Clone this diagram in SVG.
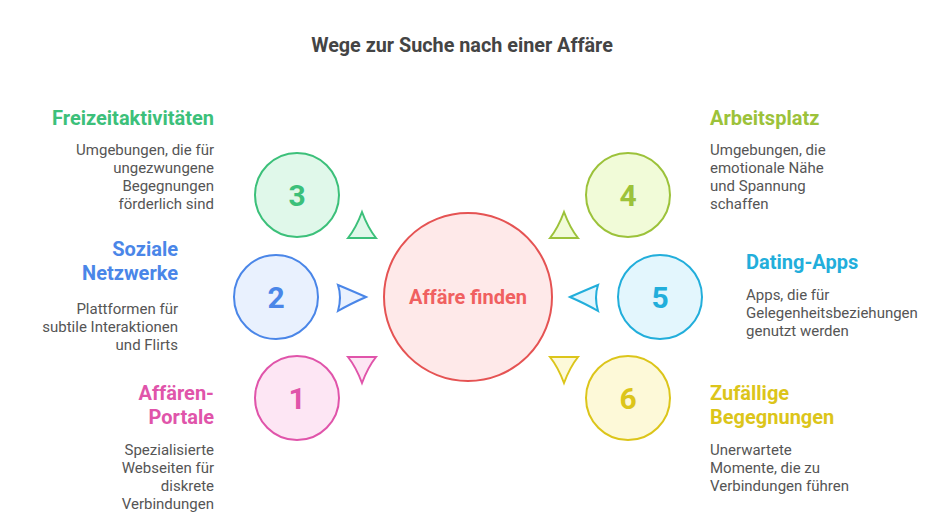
<svg xmlns="http://www.w3.org/2000/svg" width="948" height="528" viewBox="0 0 948 528">
<style>
text{font-family:Roboto,"Liberation Sans",sans-serif}
.t{font-size:19.8px;font-weight:bold;fill:#444}
.h{font-size:20px;font-weight:bold}
.b{font-size:15px;fill:#555}
.n{font-size:30px;font-weight:bold;text-anchor:middle}
circle,path{stroke-width:2}
</style>
<rect width="948" height="528" fill="#fff"/>
<text class="t" x="462" y="52" text-anchor="middle">Wege zur Suche nach einer Affäre</text>
<g id="center"><circle cx="468" cy="297" r="84" fill="#fee9e9" stroke="#e55353"/><text x="468" y="304" text-anchor="middle" font-size="20" font-weight="bold" fill="#f06060">Affäre finden</text></g>
<g id="connectors">
<path d="M362 212 Q356 228 348 238 L376 238 Q368 228 362 212Z" fill="#e0f8ea" stroke="#3cc07a"/>
<path d="M366 297 Q350 290 338 285 Q342 297 338 311 Q350 304 366 297Z" fill="#e9f1fe" stroke="#4a86e8"/>
<path d="M362 383 Q356 367 348 357 L376 357 Q368 367 362 383Z" fill="#fde6f4" stroke="#e054aa"/>
<path d="M564 212 Q558 228 550 238 L578 238 Q570 228 564 212Z" fill="#f1fbd8" stroke="#9cc23a"/>
<path d="M570 297 Q586 290 598 285 Q594 297 598 311 Q586 304 570 297Z" fill="#e3f6fd" stroke="#22aedb"/>
<path d="M564 383 Q558 367 550 357 L578 357 Q570 367 564 383Z" fill="#fdf9d8" stroke="#dcc51a"/>
</g>
<g id="n3"><circle cx="297" cy="195" r="42" fill="#e0f8ea" stroke="#3cc07a"/><text class="n" x="297" y="206" fill="#3cc07a">3</text>
<text class="h" x="214" y="125" text-anchor="end" fill="#3cc07a">Freizeitaktivitäten</text>
<text class="b" text-anchor="end" x="214" y="155">Umgebungen, die für<tspan x="214" dy="18">ungezwungene</tspan><tspan x="214" dy="18">Begegnungen</tspan><tspan x="214" dy="18">förderlich sind</tspan></text></g>
<g id="n2"><circle cx="276" cy="297" r="42" fill="#e9f1fe" stroke="#4a86e8"/><text class="n" x="276" y="308" fill="#4a86e8">2</text>
<text class="h" x="178" y="256" text-anchor="end" fill="#4a86e8">Soziale<tspan x="178" dy="24">Netzwerke</tspan></text>
<text class="b" text-anchor="end" x="178" y="314">Plattformen für<tspan x="178" dy="18">subtile Interaktionen</tspan><tspan x="178" dy="18">und Flirts</tspan></text></g>
<g id="n1"><circle cx="297" cy="398" r="42" fill="#fde6f4" stroke="#e054aa"/><text class="n" x="297" y="409" fill="#e054aa">1</text>
<text class="h" x="214" y="400" text-anchor="end" fill="#e054aa">Affären-<tspan x="214" dy="24">Portale</tspan></text>
<text class="b" text-anchor="end" x="214" y="455">Spezialisierte<tspan x="214" dy="18">Webseiten für</tspan><tspan x="214" dy="18">diskrete</tspan><tspan x="214" dy="18">Verbindungen</tspan></text></g>
<g id="n4"><circle cx="628" cy="195" r="42" fill="#f1fbd8" stroke="#9cc23a"/><text class="n" x="628" y="206" fill="#9cc23a">4</text>
<text class="h" x="710" y="125" fill="#9cc23a">Arbeitsplatz</text>
<text class="b" x="710" y="155">Umgebungen, die<tspan x="710" dy="18">emotionale Nähe</tspan><tspan x="710" dy="18">und Spannung</tspan><tspan x="710" dy="18">schaffen</tspan></text></g>
<g id="n5"><circle cx="660" cy="297" r="42" fill="#e3f6fd" stroke="#22aedb"/><text class="n" x="660" y="308" fill="#22aedb">5</text>
<text class="h" x="746" y="269" fill="#22aedb">Dating-Apps</text>
<text class="b" x="746" y="300">Apps, die für<tspan x="746" dy="18">Gelegenheitsbeziehungen</tspan><tspan x="746" dy="18">genutzt werden</tspan></text></g>
<g id="n6"><circle cx="628" cy="398" r="42" fill="#fdf9d8" stroke="#dcc51a"/><text class="n" x="628" y="409" fill="#dcc51a">6</text>
<text class="h" x="710" y="400" fill="#dcc51a">Zufällige<tspan x="710" dy="24">Begegnungen</tspan></text>
<text class="b" x="710" y="455">Unerwartete<tspan x="710" dy="18">Momente, die zu</tspan><tspan x="710" dy="18">Verbindungen führen</tspan></text></g>
</svg>
